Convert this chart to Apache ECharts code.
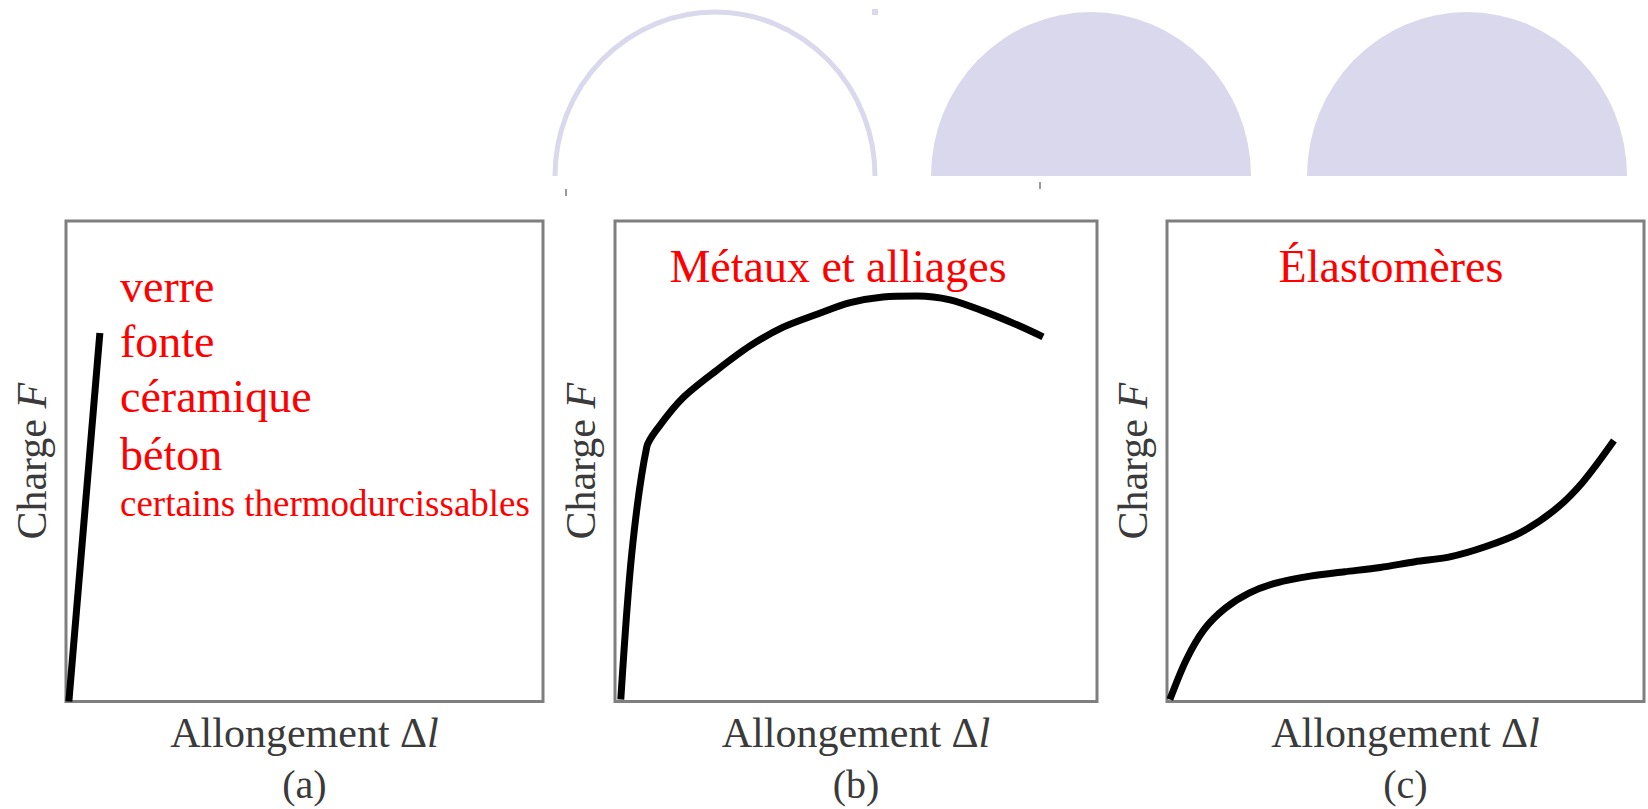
<!DOCTYPE html>
<html lang="fr">
<head>
<meta charset="utf-8">
<title>Courbes charge – allongement</title>
<script src="https://cdn.jsdelivr.net/npm/echarts@6.0.0/dist/echarts.min.js"></script>
<style>
  html, body { margin: 0; padding: 0; background: #ffffff; }
  #chart { width: 1648px; height: 809px; }
</style>
</head>
<body>
<div id="chart"></div>
<script>
// Panel captions and axis titles
const panelLetters = ['(a)', '(b)', '(c)'];
const xAxisTitle = 'Allongement Δ';
const xAxisVariable = 'l';
const yAxisTitle = 'Charge ';
const yAxisVariable = 'F';

// Material families named in each panel
const fragileMaterials = ['verre', 'fonte', 'céramique', 'béton', 'certains thermodurcissables'];
const metalTitle = 'Métaux et alliages';
const elastomerTitle = 'Élastomères';

// Load–elongation curves, both axes in percent of the frame (0–100)
const fragileCurve = [[0.6, 0], [7.1, 76.7]];
const metalCurve = [
  [1.2, 0.4], [3.5, 31.0], [6.6, 53.0], [8.9, 56.9], [14.1, 63.2], [21.2, 69.0],
  [28.0, 74.0], [34.9, 77.9], [41.9, 80.6], [48.8, 83.0], [55.6, 84.2], [62.7, 84.4],
  [69.5, 83.6], [76.3, 81.3], [83.4, 78.4], [88.8, 75.9]
];
const elastomerCurve = [
  [0.6, 0.4], [4.0, 8.6], [7.8, 15.0], [12.2, 19.4], [17.3, 22.6], [23.0, 24.7],
  [30.0, 26.1], [37.3, 27.0], [44.7, 27.9], [52.0, 29.1], [59.3, 30.1], [66.7, 32.2],
  [74.0, 35.1], [81.3, 39.9], [87.2, 45.7], [93.7, 54.3]
];

const SERIF = '"Liberation Serif", "Times New Roman", serif';
const AXIS_TEXT = '#3a3a3a';
const RED = '#ff0000';
const LAVENDER = '#dad8ec';

const frames = [
  { left: 66, top: 221, width: 477, height: 481 },
  { left: 615, top: 221, width: 482, height: 481 },
  { left: 1167, top: 221, width: 477, height: 481 }
];
const curves = [fragileCurve, metalCurve, elastomerCurve];

const grid = frames.map(f => Object.assign({
  show: true, borderColor: '#7f7f7f', borderWidth: 3, backgroundColor: '#ffffff'
}, f));

const xAxis = frames.map((f, i) => ({
  type: 'value', gridIndex: i, min: 0, max: 100,
  axisLine: { show: false }, axisTick: { show: false },
  axisLabel: { show: false }, splitLine: { show: false },
  name: '{n|' + xAxisTitle + '}{i|' + xAxisVariable + '}\n{p|' + panelLetters[i] + '}',
  nameLocation: 'middle', nameGap: 8,
  nameTextStyle: {
    rich: {
      n: { fontFamily: SERIF, fontSize: 42, color: AXIS_TEXT, lineHeight: 46 },
      i: { fontFamily: SERIF, fontSize: 42, color: AXIS_TEXT, fontStyle: 'italic', lineHeight: 46 },
      p: { fontFamily: SERIF, fontSize: 40, color: AXIS_TEXT, lineHeight: 57 }
    }
  }
}));

const yAxis = frames.map((f, i) => ({
  type: 'value', gridIndex: i, min: 0, max: 100,
  axisLine: { show: false }, axisTick: { show: false },
  axisLabel: { show: false }, splitLine: { show: false },
  name: '{n|' + yAxisTitle + '}{i|' + yAxisVariable + '}',
  nameLocation: 'middle', nameGap: 13,
  nameTextStyle: {
    rich: {
      n: { fontFamily: SERIF, fontSize: 42, color: AXIS_TEXT },
      i: { fontFamily: SERIF, fontSize: 42, color: AXIS_TEXT, fontStyle: 'italic' }
    }
  }
}));

const series = curves.map((data, i) => ({
  type: 'line', xAxisIndex: i, yAxisIndex: i, data: data,
  showSymbol: false, silent: true, animation: false,
  smooth: i === 0 ? false : 0.3,
  lineStyle: { color: '#000000', width: 7 }
}));

// Red annotations
function redText(text, x, y, size, align) {
  return {
    type: 'text', x: x, y: y, silent: true,
    style: {
      text: text, fill: RED, font: size + 'px ' + SERIF,
      align: align, verticalAlign: 'middle',
      textAlign: align, textVerticalAlign: 'middle'
    }
  };
}
const fragileRows = [286, 341, 396, 454, 503];
const annotations = fragileMaterials.map((m, k) =>
  redText(m, 120, fragileRows[k], k === 4 ? 37 : 46, 'left'));
annotations.push(redText(metalTitle, 838, 266, 46, 'center'));
annotations.push(redText(elastomerTitle, 1391, 266, 46, 'center'));

// Lavender half-domes across the top
const domeRy = 164, domeR = 160;
const domes = [
  {
    type: 'arc', x: 715, y: 176, scaleY: domeRy / domeR, silent: true,
    shape: { cx: 0, cy: 0, r: domeR, startAngle: Math.PI, endAngle: 2 * Math.PI, clockwise: true },
    style: { stroke: LAVENDER, lineWidth: 5, fill: null }
  },
  {
    type: 'sector', x: 1091, y: 176, scaleY: domeRy / domeR, silent: true,
    shape: { cx: 0, cy: 0, r: domeR, r0: 0, startAngle: Math.PI, endAngle: 2 * Math.PI, clockwise: true },
    style: { fill: LAVENDER }
  },
  {
    type: 'sector', x: 1467, y: 176, scaleY: domeRy / domeR, silent: true,
    shape: { cx: 0, cy: 0, r: domeR, r0: 0, startAngle: Math.PI, endAngle: 2 * Math.PI, clockwise: true },
    style: { fill: LAVENDER }
  },
  { type: 'rect', silent: true, shape: { x: 872, y: 9, width: 6, height: 6 }, style: { fill: LAVENDER } },
  { type: 'rect', silent: true, shape: { x: 565, y: 189, width: 2, height: 7 }, style: { fill: '#9a9a9a' } },
  { type: 'rect', silent: true, shape: { x: 1039, y: 182, width: 2, height: 7 }, style: { fill: '#9a9a9a' } }
];

const chart = echarts.init(document.getElementById('chart'), null, { renderer: 'svg' });
chart.setOption({
  animation: false,
  backgroundColor: '#ffffff',
  grid: grid,
  xAxis: xAxis,
  yAxis: yAxis,
  series: series,
  graphic: { elements: domes.concat(annotations) }
});
</script>
</body>
</html>
